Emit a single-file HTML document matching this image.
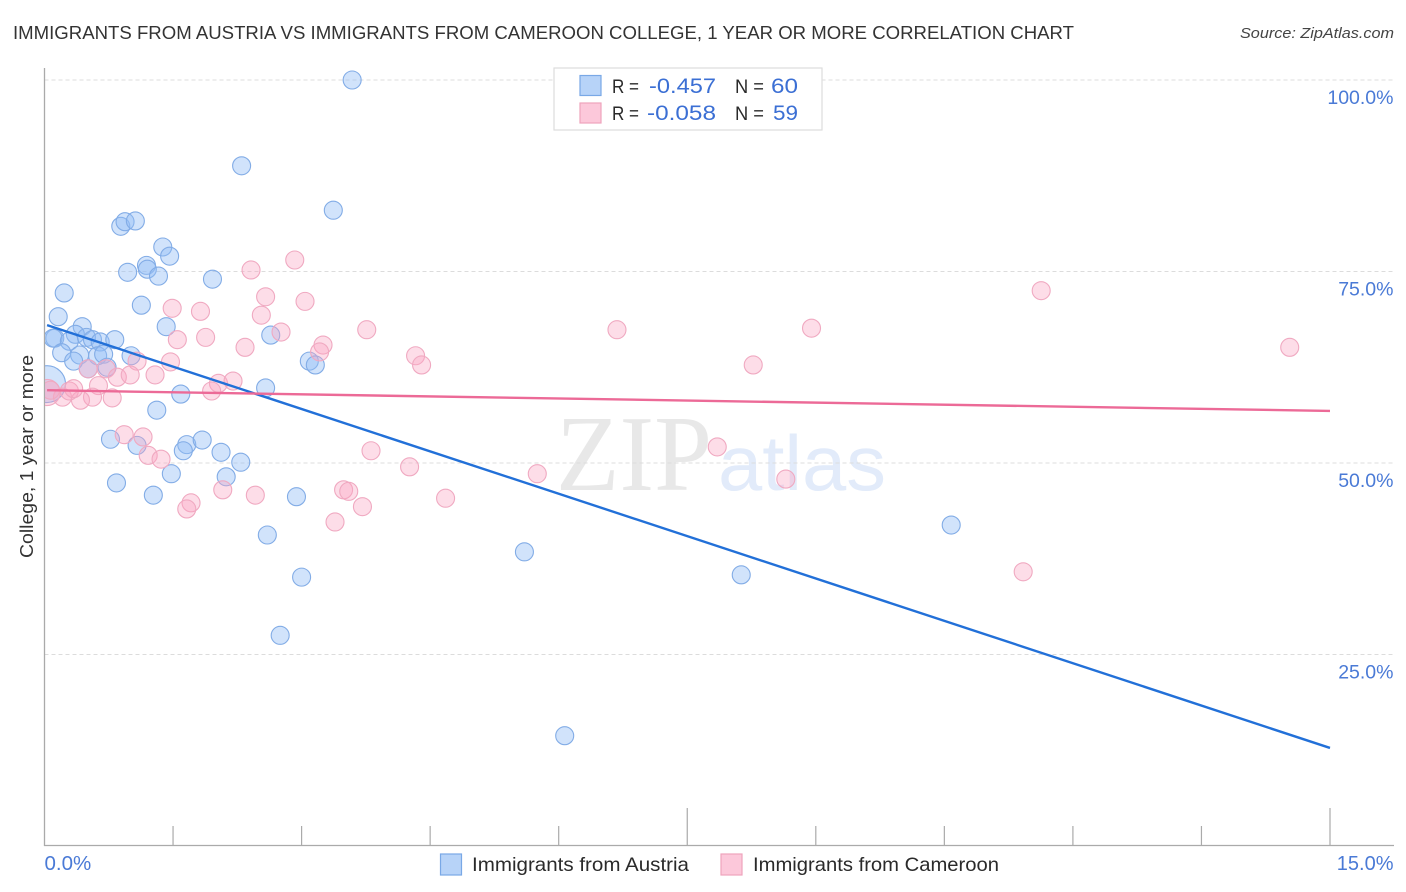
<!DOCTYPE html>
<html lang="en">
<head>
<meta charset="utf-8">
<title>Immigrants from Austria vs Immigrants from Cameroon College Correlation Chart</title>
<style>
html,body{margin:0;padding:0;background:#fff;width:1406px;height:892px;overflow:hidden}
svg{display:block}
text{font-family:"Liberation Sans",sans-serif}
</style>
</head>
<body>
<svg id="chart" xmlns="http://www.w3.org/2000/svg" width="1406" height="892" viewBox="0 0 1406 892">
  <defs><clipPath id="plot-clip"><rect x="45" y="60" width="1350" height="786"/></clipPath></defs>
  <text x="13" y="39" font-size="18.5" fill="#333" textLength="1061" lengthAdjust="spacingAndGlyphs">IMMIGRANTS FROM AUSTRIA VS IMMIGRANTS FROM CAMEROON COLLEGE, 1 YEAR OR MORE CORRELATION CHART</text>
  <text x="1394" y="38" font-size="15" font-style="italic" fill="#444" text-anchor="end" textLength="154" lengthAdjust="spacingAndGlyphs">Source: ZipAtlas.com</text>
  <g>
    <text x="556" y="490" font-size="108" fill="#e8e8e8" textLength="156" lengthAdjust="spacingAndGlyphs" style="font-family:'Liberation Serif',serif">ZIP</text>
    <text x="718" y="490" font-size="78" fill="#e2ebfa" textLength="168" lengthAdjust="spacingAndGlyphs">atlas</text>
  </g>
  <g id="grid"></g>
  <g id="axes"></g>
  <g id="marks" clip-path="url(#plot-clip)"></g>
  <g id="trends"></g>
  <g id="labels"></g>
  <text transform="translate(33,558) rotate(-90)" font-size="18.5" fill="#333" textLength="203" lengthAdjust="spacingAndGlyphs">College, 1 year or more</text>

  <g>
    <rect x="554" y="68" width="268" height="62" fill="#fff" stroke="#ddd" stroke-width="1.2"/>
    <rect x="580" y="75.5" width="21" height="20" fill="#b7d3f8" stroke="#79a8e6" stroke-width="1.2"/>
    <rect x="580" y="103" width="21" height="20" fill="#fcc8da" stroke="#eea3bc" stroke-width="1.2"/>
    <text x="612" y="93" font-size="19" fill="#2a2a2a" textLength="27" lengthAdjust="spacingAndGlyphs">R =</text>
    <text x="649" y="93" font-size="21" fill="#3b6fd4" textLength="67" lengthAdjust="spacingAndGlyphs">-0.457</text>
    <text x="735" y="93" font-size="19" fill="#2a2a2a" textLength="29" lengthAdjust="spacingAndGlyphs">N =</text>
    <text x="771" y="93" font-size="21" fill="#3b6fd4" textLength="27" lengthAdjust="spacingAndGlyphs">60</text>
    <text x="612" y="120" font-size="19" fill="#2a2a2a" textLength="27" lengthAdjust="spacingAndGlyphs">R =</text>
    <text x="647" y="120" font-size="21" fill="#3b6fd4" textLength="69" lengthAdjust="spacingAndGlyphs">-0.058</text>
    <text x="735" y="120" font-size="19" fill="#2a2a2a" textLength="29" lengthAdjust="spacingAndGlyphs">N =</text>
    <text x="773" y="120" font-size="21" fill="#3b6fd4" textLength="25" lengthAdjust="spacingAndGlyphs">59</text>
  </g>

  <g>
    <g>
      <rect x="440.5" y="854" width="21" height="21" fill="#b7d3f8" stroke="#79a8e6" stroke-width="1.2"/>
      <text x="472" y="871" font-size="19.5" fill="#2a2a2a" textLength="217" lengthAdjust="spacingAndGlyphs">Immigrants from Austria</text>
    </g>
    <g>
      <rect x="721" y="854" width="21" height="21" fill="#fcc8da" stroke="#eea3bc" stroke-width="1.2"/>
      <text x="753" y="871" font-size="19.5" fill="#2a2a2a" textLength="246" lengthAdjust="spacingAndGlyphs">Immigrants from Cameroon</text>
    </g>
  </g>
</svg>
<script>
const xTickValues = [0, 1.5, 3, 4.5, 6, 7.5, 9, 10.5, 12, 13.5, 15];
const xMajorTickValues = [0, 7.5, 15];
const xEndLabels = ["0.0%", "15.0%"];
const yTickValues = [25, 50, 75, 100];
const yTickLabels = ["25.0%", "50.0%", "75.0%", "100.0%"];

const austriaX = [3.59,2.30,3.37,0.89,0.94,1.06,1.38,1.46,1.19,1.20,0.97,1.33,1.96,0.23,1.13,0.16,1.42,0.44,0.36,0.12,0.10,0.29,0.49,0.56,0.65,0.82,2.64,0.20,0.41,0.62,0.69,1.01,0.34,0.73,0.51,3.09,3.16,2.58,1.59,1.31,0.77,1.08,1.66,1.62,1.84,2.06,2.29,1.48,2.12,0.84,1.27,2.94,2.60,3.00,2.75,5.60,8.13,10.58,6.07];
const austriaY = [100.0,88.8,83.0,80.9,81.5,81.6,78.2,77.0,75.8,75.3,74.9,74.4,74.0,72.2,70.6,69.1,67.8,67.8,66.8,66.3,66.3,65.9,66.4,66.1,65.8,66.1,66.7,64.4,64.1,64.0,64.2,64.0,63.3,62.5,62.3,63.3,62.8,59.8,59.0,56.9,53.1,52.3,52.4,51.6,53.0,51.4,50.1,48.6,48.2,47.4,45.8,45.6,40.6,35.1,27.5,38.4,35.4,41.9,14.4];
const austriaBubbleX = [0.03];
const austriaBubbleY = [60.3];
const austriaBubbleWeight = [4.2];

const cameroonX = [2.92,2.41,2.58,3.04,1.49,1.82,2.53,3.76,2.76,1.88,1.55,3.25,2.34,3.21,4.33,4.40,6.68,8.95,8.27,11.63,14.53,1.47,1.08,0.51,0.72,0.85,1.00,1.29,2.03,1.95,2.20,0.63,0.79,0.56,0.42,0.21,0.29,0.34,0.07,0.93,1.15,1.21,1.36,2.08,2.46,1.71,1.66,3.81,4.26,3.49,3.55,3.71,3.39,4.68,5.75,7.85,8.65,11.42];
const cameroonY = [76.5,75.2,71.7,71.1,70.2,69.8,69.3,67.4,67.1,66.4,66.1,65.4,65.1,64.5,64.0,62.8,67.4,67.6,62.8,72.5,65.1,63.2,63.3,62.3,62.3,61.2,61.5,61.5,60.4,59.4,60.7,60.1,58.5,58.6,58.2,58.6,59.4,59.7,59.5,53.7,53.4,51.0,50.5,46.5,45.8,44.8,44.0,51.6,49.5,46.5,46.3,44.3,42.3,45.4,48.6,52.1,47.9,35.8];
const cameroonBubbleX = [0.03];
const cameroonBubbleY = [59.2];
const cameroonBubbleWeight = [2.1];

const austriaTrendX = [0.03, 15];
const austriaTrendY = [68.0, 12.8];
const cameroonTrendX = [0.03, 15];
const cameroonTrendY = [59.5, 56.8];

const NS = 'http://www.w3.org/2000/svg';
const xScale = v => 44.5 + v / 15 * 1285.5;
const yScale = v => 846 - v * 7.66;
const gridG = document.getElementById('grid');
const axesG = document.getElementById('axes');
const marksG = document.getElementById('marks');
const trendsG = document.getElementById('trends');
const labelsG = document.getElementById('labels');

function svgEl(tag, parent, attrs) {
  const el = document.createElementNS(NS, tag);
  for (const k in attrs) el.setAttribute(k, attrs[k]);
  parent.appendChild(el);
  return el;
}

yTickValues.forEach((v, i) => {
  const line = svgEl('line', gridG, {x1: 44.5, x2: 1394, y1: yScale(v), y2: yScale(v), stroke: '#dcdcdc', 'stroke-width': 1, 'stroke-dasharray': '4 3'});
  
  
  const label = svgEl('text', labelsG, {x: 1393.5, y: yScale(v) + 24, 'font-size': 19.5, fill: '#4a7ad6', 'text-anchor': 'end'});
  
  
  label.textContent = yTickLabels[i];
});

const yAxisLine = svgEl('line', axesG, {x1: 44.5, x2: 44.5, y1: 68, y2: 846, stroke: '#aaa', 'stroke-width': 1.3});


const xAxisLine = svgEl('line', axesG, {x1: 44, x2: 1394, y1: 845.5, y2: 845.5, stroke: '#aaa', 'stroke-width': 1.3});


xTickValues.forEach(v => {
  if (v === 0) return;
  const top = xMajorTickValues.includes(v) ? 808 : 826;
  const tick = svgEl('line', axesG, {x1: xScale(v), x2: xScale(v), y1: top, y2: 846, stroke: '#aaa', 'stroke-width': 1.2});
  
  
});

const xStartLabel = svgEl('text', labelsG, {x: xScale(0), y: 870, 'font-size': 20.5, fill: '#4a7ad6'});


xStartLabel.textContent = xEndLabels[0];
const xEndLabel = svgEl('text', labelsG, {x: 1393.5, y: 870, 'font-size': 20, fill: '#4a7ad6', 'text-anchor': 'end'});


xEndLabel.textContent = xEndLabels[1];

const BASE_R = 9;
function drawPoint(x, y, weight, fill, stroke, name) {
  const c = svgEl('circle', marksG, {cx: xScale(x), cy: yScale(y), r: BASE_R * Math.sqrt(weight), fill: fill, stroke: stroke, 'stroke-width': 1.1});
  
  
}
const blueFill = 'rgba(146,188,245,0.42)', blueStroke = '#82ace6';
const pinkFill = 'rgba(250,165,195,0.38)', pinkStroke = '#f0a9c1';

austriaBubbleX.forEach((x, i) => drawPoint(x, austriaBubbleY[i], austriaBubbleWeight[i], blueFill, blueStroke, 'austria-point-large'));
austriaX.forEach((x, i) => drawPoint(x, austriaY[i], 1, blueFill, blueStroke, 'austria-point'));
cameroonBubbleX.forEach((x, i) => drawPoint(x, cameroonBubbleY[i], cameroonBubbleWeight[i], pinkFill, pinkStroke, 'cameroon-point-large'));
cameroonX.forEach((x, i) => drawPoint(x, cameroonY[i], 1, pinkFill, pinkStroke, 'cameroon-point'));

const blueTrend = svgEl('line', trendsG, {x1: xScale(austriaTrendX[0]), y1: yScale(austriaTrendY[0]), x2: xScale(austriaTrendX[1]), y2: yScale(austriaTrendY[1]), stroke: '#2270d8', 'stroke-width': 2.4});


const pinkTrend = svgEl('line', trendsG, {x1: xScale(cameroonTrendX[0]), y1: yScale(cameroonTrendY[0]), x2: xScale(cameroonTrendX[1]), y2: yScale(cameroonTrendY[1]), stroke: '#ec6a97', 'stroke-width': 2.4});


</script>
</body>
</html>
